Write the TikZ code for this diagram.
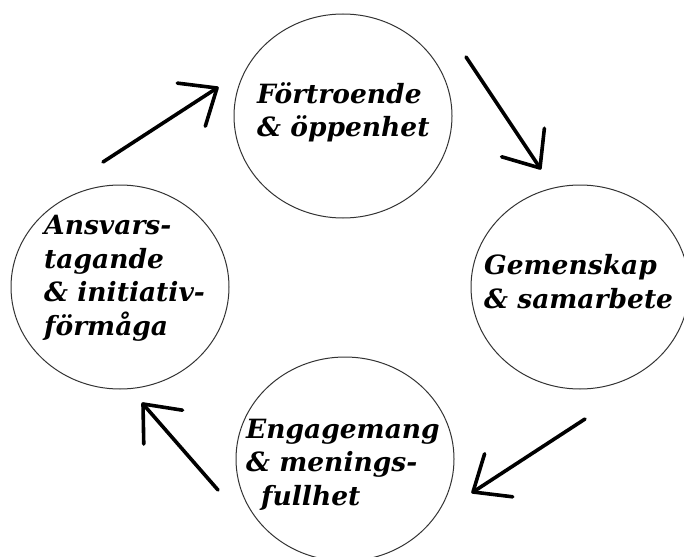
\documentclass[tikz,border=0pt]{standalone}
\usepackage{fontspec}
\setmainfont{DejaVu Serif}
\usetikzlibrary{calc,shapes.geometric}
\begin{document}
\begin{tikzpicture}[x=1pt,y=-1pt,
  ring/.style={draw=black!80, line width=1pt, ellipse, inner sep=0pt,
    minimum width=218pt, minimum height=204pt},
  lbl/.style={font=\fontsize{26.5}{33.5}\selectfont\bfseries\itshape, align=left,
    inner sep=0pt, anchor=base west},
  arr/.style={line width=3.6pt, line cap=round, line join=round}]
\useasboundingbox (0,0) rectangle (684,556);
\fill[white] (0,0) rectangle (684,556);
\node[ring] (c1) at (343,116) {};
\node[ring] (c2) at (580,287) {};
\node[ring] (c3) at (345,459) {};
\node[ring] (c4) at (120,287) {};
\node[lbl] (t1) at (257,137) {Förtroende\\\& öppenhet};
\node[lbl] (t2) at (484,308) {Gemenskap\\\& samarbete};
\node[lbl] (t3) at (246,505) {Engagemang\\\& menings-\\\hspace*{15pt}fullhet};
\node[lbl] (t4) at (44,335) {Ansvars-\\tagande\\\& initiativ-\\förmåga};
\coordinate (s1) at (103,162); \coordinate (e1) at (217,88);
\coordinate (s2) at (466,57);  \coordinate (e2) at (540,168);
\coordinate (s3) at (585,419); \coordinate (e3) at (473,492);
\coordinate (s4) at (218,490); \coordinate (e4) at (143,404);
\foreach \s/\e in {s1/e1,s2/e2,s3/e3,s4/e4}{
  \draw[arr] (\s) -- (\e);
  \draw[arr] ($(\e)!40pt!40:(\s)$) -- (\e) -- ($(\e)!40pt!-40:(\s)$);
}
\end{tikzpicture}
\end{document}
